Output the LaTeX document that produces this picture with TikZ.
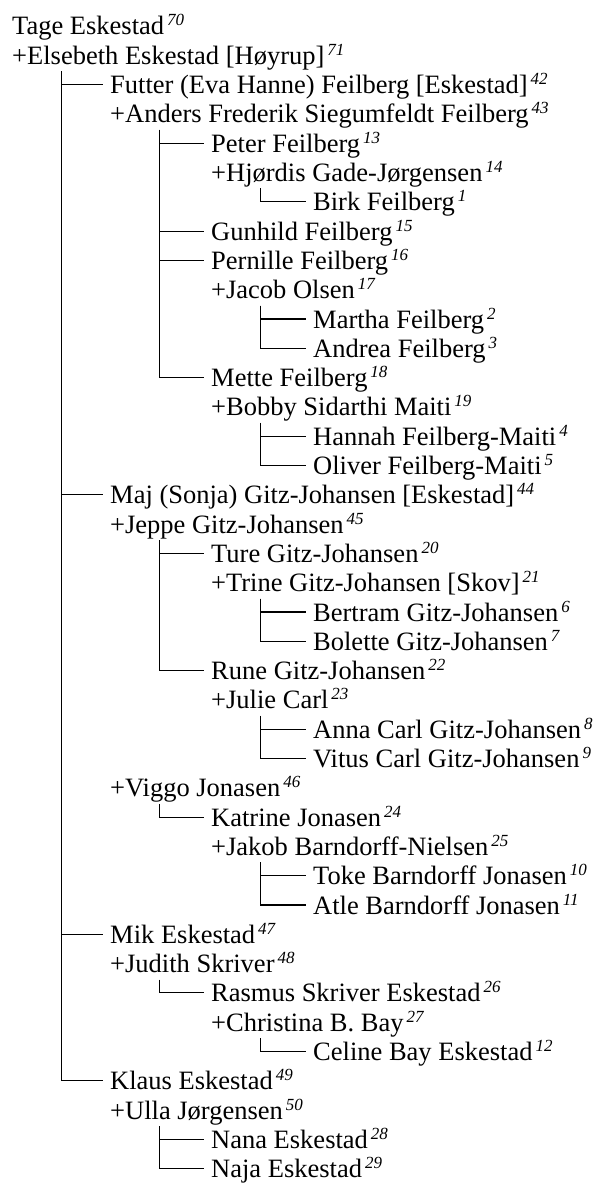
\documentclass[tikz,border=0pt]{standalone}
\usepackage{fontspec}
\setmainfont{Liberation Serif}
\newcommand\nr[1]{\hspace{3pt}\raisebox{9pt}{\fontsize{17}{17}\selectfont\itshape #1}}
\newcommand\pn[5]{\node[person] (#1) at (#2,{35+29.3*#3}) {#4\nr{#5}};}
\newcommand\kid[2]{\draw[conn] ([xshift=49.5pt,yshift=-7pt]#1.base west) |- ([xshift=-7pt,yshift=9pt]#2.base west);}
\begin{document}
\begin{tikzpicture}[x=1pt,y=-1pt,
  person/.style={anchor=base west,inner sep=0pt,font=\fontsize{26.5}{29}\selectfont},
  conn/.style={line width=1.1pt,black}]
\useasboundingbox (0,0) rectangle (598,1185);
\pn{p0}{12}{0}{Tage Eskestad}{70}
\pn{p1}{12}{1}{+Elsebeth Eskestad [Høyrup]}{71}
\pn{p2}{110}{2}{Futter (Eva Hanne) Feilberg [Eskestad]}{42}
\pn{p3}{110}{3}{+Anders Frederik Siegumfeldt Feilberg}{43}
\pn{p4}{211}{4}{Peter Feilberg}{13}
\pn{p5}{211}{5}{+Hjørdis Gade-Jørgensen}{14}
\pn{p6}{313}{6}{Birk Feilberg}{1}
\pn{p7}{211}{7}{Gunhild Feilberg}{15}
\pn{p8}{211}{8}{Pernille Feilberg}{16}
\pn{p9}{211}{9}{+Jacob Olsen}{17}
\pn{p10}{313}{10}{Martha Feilberg}{2}
\pn{p11}{313}{11}{Andrea Feilberg}{3}
\pn{p12}{211}{12}{Mette Feilberg}{18}
\pn{p13}{211}{13}{+Bobby Sidarthi Maiti}{19}
\pn{p14}{313}{14}{Hannah Feilberg-Maiti}{4}
\pn{p15}{313}{15}{Oliver Feilberg-Maiti}{5}
\pn{p16}{110}{16}{Maj (Sonja) Gitz-Johansen [Eskestad]}{44}
\pn{p17}{110}{17}{+Jeppe Gitz-Johansen}{45}
\pn{p18}{211}{18}{Ture Gitz-Johansen}{20}
\pn{p19}{211}{19}{+Trine Gitz-Johansen [Skov]}{21}
\pn{p20}{313}{20}{Bertram Gitz-Johansen}{6}
\pn{p21}{313}{21}{Bolette Gitz-Johansen}{7}
\pn{p22}{211}{22}{Rune Gitz-Johansen}{22}
\pn{p23}{211}{23}{+Julie Carl}{23}
\pn{p24}{313}{24}{Anna Carl Gitz-Johansen}{8}
\pn{p25}{313}{25}{Vitus Carl Gitz-Johansen}{9}
\pn{p26}{110}{26}{+Viggo Jonasen}{46}
\pn{p27}{211}{27}{Katrine Jonasen}{24}
\pn{p28}{211}{28}{+Jakob Barndorff-Nielsen}{25}
\pn{p29}{313}{29}{Toke Barndorff Jonasen}{10}
\pn{p30}{313}{30}{Atle Barndorff Jonasen}{11}
\pn{p31}{110}{31}{Mik Eskestad}{47}
\pn{p32}{110}{32}{+Judith Skriver}{48}
\pn{p33}{211}{33}{Rasmus Skriver Eskestad}{26}
\pn{p34}{211}{34}{+Christina B. Bay}{27}
\pn{p35}{313}{35}{Celine Bay Eskestad}{12}
\pn{p36}{110}{36}{Klaus Eskestad}{49}
\pn{p37}{110}{37}{+Ulla Jørgensen}{50}
\pn{p38}{211}{38}{Nana Eskestad}{28}
\pn{p39}{211}{39}{Naja Eskestad}{29}
% connectors
\kid{p1}{p2}\kid{p1}{p16}\kid{p1}{p31}\kid{p1}{p36}
\kid{p3}{p4}\kid{p3}{p7}\kid{p3}{p8}\kid{p3}{p12}
\kid{p5}{p6}
\kid{p9}{p10}\kid{p9}{p11}
\kid{p13}{p14}\kid{p13}{p15}
\kid{p17}{p18}\kid{p17}{p22}
\kid{p19}{p20}\kid{p19}{p21}
\kid{p23}{p24}\kid{p23}{p25}
\kid{p26}{p27}
\kid{p28}{p29}\kid{p28}{p30}
\kid{p32}{p33}
\kid{p34}{p35}
\kid{p37}{p38}\kid{p37}{p39}
\end{tikzpicture}
\end{document}
